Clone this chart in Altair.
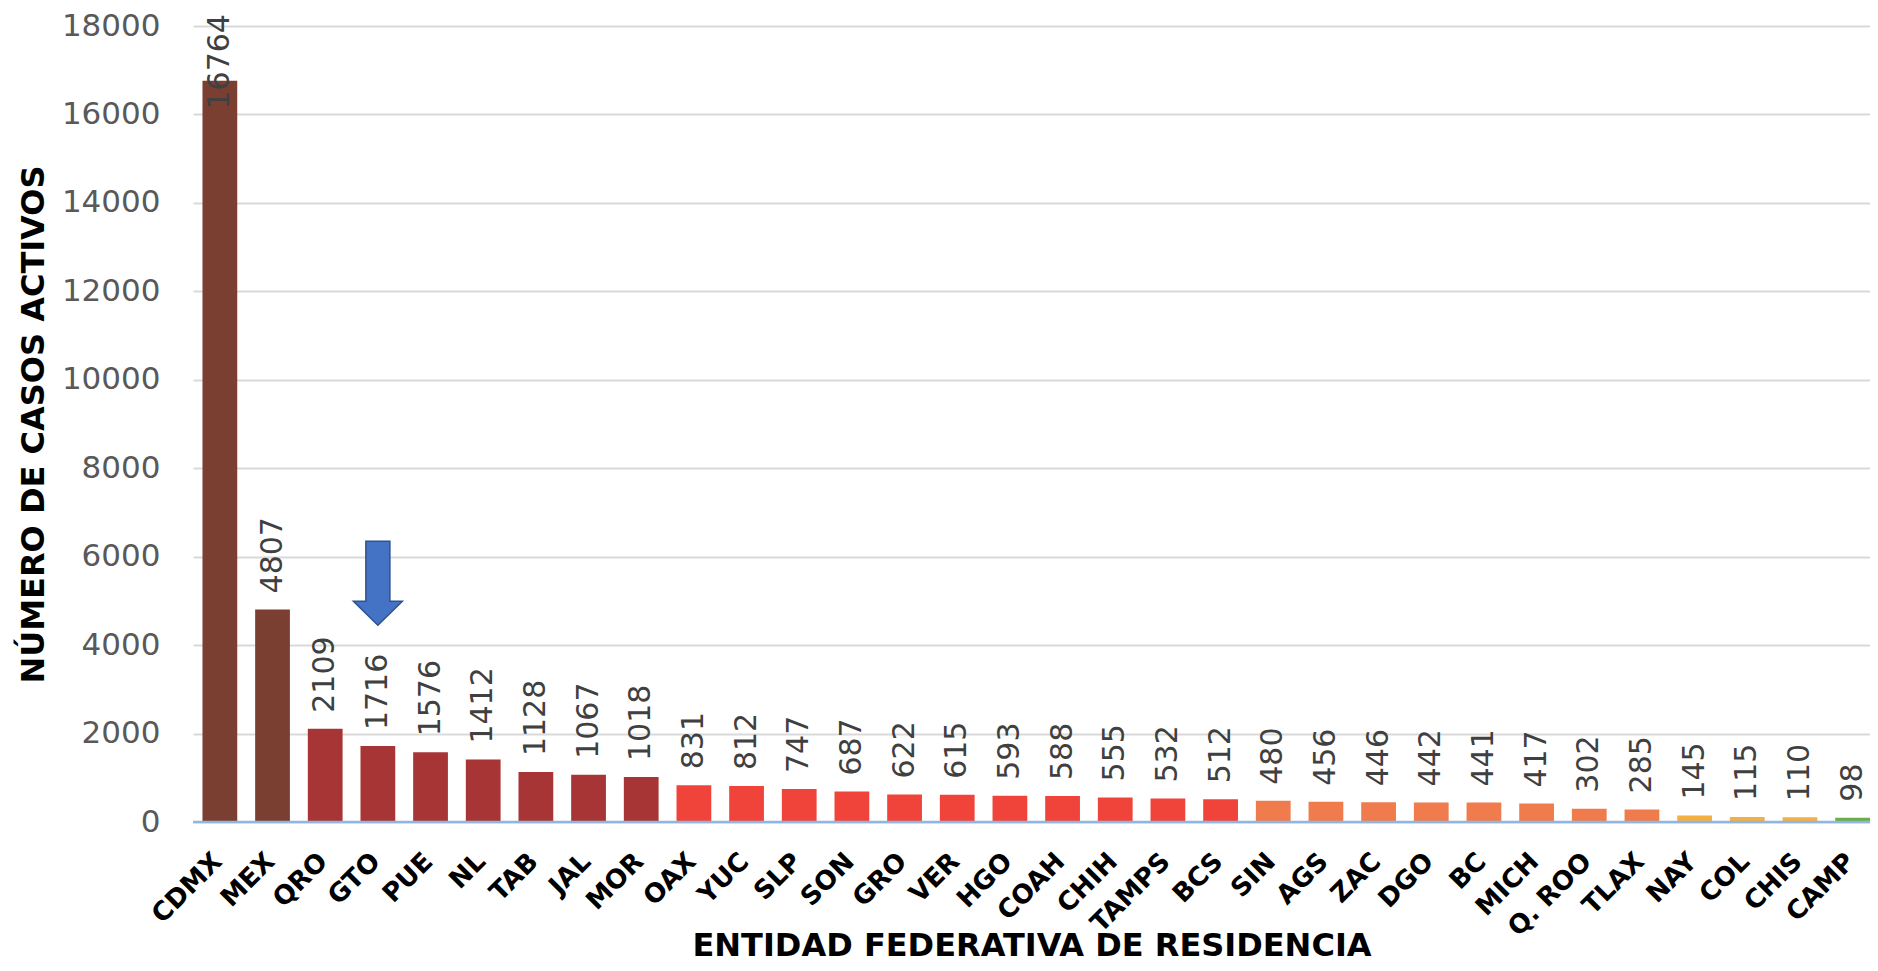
import altair as alt
import pandas as pd

# ---------------- data ----------------
estados = ["CDMX", "MEX", "QRO", "GTO", "PUE", "NL", "TAB", "JAL", "MOR", "OAX",
           "YUC", "SLP", "SON", "GRO", "VER", "HGO", "COAH", "CHIH", "TAMPS", "BCS",
           "SIN", "AGS", "ZAC", "DGO", "BC", "MICH", "Q. ROO", "TLAX", "NAY", "COL",
           "CHIS", "CAMP"]
casos = [16764, 4807, 2109, 1716, 1576, 1412, 1128, 1067, 1018, 831,
         812, 747, 687, 622, 615, 593, 588, 555, 532, 512,
         480, 456, 446, 442, 441, 417, 302, 285, 145, 115,
         110, 98]
grupos = ["A", "A", "B", "B", "B", "B", "B", "B", "B", "C",
          "C", "C", "C", "C", "C", "C", "C", "C", "C", "C",
          "D", "D", "D", "D", "D", "D", "D", "D", "E", "E",
          "E", "F"]
grupo_dominio = ["A", "B", "C", "D", "E", "F"]
grupo_colores = ["#7B3F32", "#A83535", "#F0443A", "#F07C4E", "#F5B042", "#6BAE45"]
y_ticks = [0, 2000, 4000, 6000, 8000, 10000, 12000, 14000, 16000, 18000]

flecha_estado = ["GTO"]
flecha_valor = [5400]
LABEL_CAP = 15750  # keep the tallest label inside the chart, as in the original

FONT = "DejaVu Sans"
Y_TITLE = "NÚMERO DE CASOS ACTIVOS"
ARROW = "M-0.49,-1.714L0.49,-1.714L0.49,0.735L1,0.735L0,1.714L-1,0.735L-0.49,0.735Z"

df = pd.DataFrame({"estado": estados, "casos": casos, "grupo": grupos})
df_flecha = pd.DataFrame({"estado": flecha_estado, "casos": flecha_valor})
df_cero = pd.DataFrame({"casos": [0]})

x_enc = alt.X(
    "estado:N", sort=estados,
    scale=alt.Scale(paddingInner=0.34, paddingOuter=0.09, align=1.0),
    axis=alt.Axis(
        title="ENTIDAD FEDERATIVA DE RESIDENCIA",
        labelAngle=-45, labelAlign="right", labelBaseline="middle",
        labelFont=FONT, labelFontWeight="bold", labelFontSize=26,
        labelColor="#000000", labelPadding=35, labelOffset=-2,
        labelOverlap=False, ticks=False, tickSize=0, domain=False, grid=False,
        titleFont=FONT, titleFontWeight="bold", titleFontSize=32,
        titleColor="#000000", titleY=133, titleBaseline="alphabetic",
    ),
)

y_scale = alt.Scale(domain=[0, 18000], nice=False)
y_enc = alt.Y(
    "casos:Q", scale=y_scale, title=Y_TITLE,
    axis=alt.Axis(
        values=y_ticks, format="d",
        labelFont=FONT, labelFontSize=31, labelColor="#595959", labelPadding=33,
        ticks=False, tickSize=0, domain=False,
        grid=True, gridColor="#D9D9D9", gridWidth=2,
        titleFont=FONT, titleFontWeight="bold", titleFontSize=32,
        titleColor="#000000", titleAngle=270, titleX=-150,
        titleBaseline="alphabetic",
    ),
)

bars = alt.Chart(df).mark_bar().encode(
    x=x_enc,
    y=y_enc,
    color=alt.Color("grupo:N",
                    scale=alt.Scale(domain=grupo_dominio, range=grupo_colores),
                    legend=None),
)

labels = alt.Chart(df).transform_calculate(
    label_y=f"min(datum.casos, {LABEL_CAP})"
).mark_text(
    angle=270, align="left", baseline="middle", dx=16,
    font=FONT, fontSize=30, color="#404040",
).encode(
    x=alt.X("estado:N", sort=estados),
    y=alt.Y("label_y:Q", title=Y_TITLE),
    text=alt.Text("casos:Q", format="d"),
)

zero = alt.Chart(df_cero).mark_rule(color="#8FB5E0", strokeWidth=2.5).encode(
    y=alt.Y("casos:Q", title=Y_TITLE)
)

arrow = alt.Chart(df_flecha).mark_point(
    shape=ARROW, size=2401, filled=True, fill="#4472C4",
    stroke="#2F528F", strokeWidth=1.5, opacity=1,
).encode(
    x=alt.X("estado:N", sort=estados),
    y=alt.Y("casos:Q", title=Y_TITLE),
)

chart = alt.layer(bars, zero, labels, arrow).properties(
    width=1677, height=796,
    autosize=alt.AutoSizeParams(type="none"),
    padding={"left": 185, "top": 18, "right": 0, "bottom": 141},
    background="#FFFFFF",
).configure_view(stroke=None)

chart.save("out.html", embed_options={"renderer": "svg", "actions": False})
